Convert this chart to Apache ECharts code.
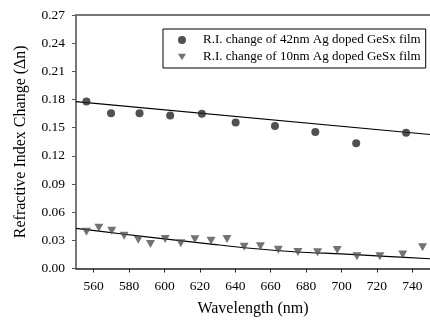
<!DOCTYPE html>
<html>
<head>
<meta charset="utf-8">
<script src="https://cdn.jsdelivr.net/npm/echarts@6/dist/echarts.min.js"></script>
<style>
  html, body { margin: 0; padding: 0; background: #fff; }
  #chart { width: 430px; height: 325px; }
</style>
</head>
<body>
<div id="chart"></div>
<script>
// measured points, 42nm Ag doped film
const wl42 = [555.9, 569.8, 585.9, 603.2, 621.1, 640.2, 662.4, 685.2, 708.3, 736.5]
const dn42 = [0.1778, 0.1654, 0.1654, 0.1629, 0.1647, 0.1554, 0.1519, 0.1455, 0.1334, 0.1447]
// measured points, 10nm Ag doped film
const wl10 = [555.9, 562.9, 570.2, 577.2, 585.2, 592.1, 600.4, 609.2, 617.2, 626.3, 635.3,
  645.0, 654.2, 664.3, 675.4, 686.5, 697.6, 708.7, 721.7, 734.6, 745.8]
const dn10 = [0.0391, 0.0435, 0.0401, 0.0348, 0.0307, 0.0261, 0.0313, 0.0268, 0.0311, 0.0295, 0.0313,
  0.0231, 0.0238, 0.0201, 0.0177, 0.0174, 0.0197, 0.0131, 0.0131, 0.0149, 0.0227]
// fitted curves
const fit42X = [550, 750]
const fit42Y = [0.1777, 0.1427]
const fit10X = [550, 575, 600, 625, 650, 675, 700, 725, 750]
const fit10Y = [0.0428, 0.0370, 0.0315, 0.0263, 0.0213, 0.0176, 0.0155, 0.0130, 0.0104]

const xTicks = [560, 580, 600, 620, 640, 660, 680, 700, 720, 740]
const name42 = 'R.I. change of 42nm Ag doped GeSx film'
const name10 = 'R.I. change of 10nm Ag doped GeSx film'

const zip = (xs, ys) => xs.map((x, i) => [x, ys[i]])
const font = 'Liberation Serif'

var myChart = echarts.init(document.getElementById('chart'))
myChart.setOption({
    animation: false,
    textStyle: { fontFamily: font, color: '#000' },
    grid: { left: 76, top: 15, width: 361, height: 253.5 },
    legend: {
        left: 163,
        top: 29,
        orient: 'vertical',
        padding: [4, 5, 4, 15],
        itemGap: 3,
        itemWidth: 8,
        itemHeight: 8,
        borderColor: '#000',
        borderWidth: 1,
        backgroundColor: '#fff',
        textStyle: { fontFamily: font, fontSize: 13, color: '#000', lineHeight: 14, padding: [0, 0, 0, 12] },
        data: [
            { name: name42, icon: 'circle' },
            { name: name10, icon: 'path://M0,0L10,0L5,8Z' }
        ]
    },
    xAxis: [{
        type: 'value',
        min: 550,
        max: 750,
        name: 'Wavelength (nm)',
        nameLocation: 'middle',
        nameGap: 32,
        nameTextStyle: { fontFamily: font, fontSize: 16, color: '#000' },
        axisLine: { lineStyle: { color: '#222', width: 1.5 } },
        axisTick: { customValues: xTicks, length: 4, lineStyle: { color: '#222' } },
        axisLabel: { customValues: xTicks, margin: 11, fontFamily: font, fontSize: 13.5, color: '#000' },
        splitLine: { show: false }
    }, {
        type: 'value',
        position: 'top',
        min: 550,
        max: 750,
        axisLine: { show: true, lineStyle: { color: '#777', width: 2 } },
        axisTick: { show: false },
        axisLabel: { show: false },
        splitLine: { show: false }
    }],
    yAxis: {
        type: 'value',
        min: 0,
        max: 0.27,
        interval: 0.03,
        name: 'Refractive Index Change (\u0394n)',
        nameLocation: 'middle',
        nameGap: 47,
        nameTextStyle: { fontFamily: font, fontSize: 16, color: '#000' },
        axisLine: { show: true, lineStyle: { color: '#777', width: 2 } },
        axisTick: { show: true, length: 4, lineStyle: { color: '#555' } },
        axisLabel: {
            margin: 11,
            fontFamily: font,
            fontSize: 13.5,
            color: '#000',
            formatter(val) { return val.toFixed(2) }
        },
        splitLine: { show: false }
    },
    series: [
        {
            name: name42,
            type: 'scatter',
            data: zip(wl42, dn42),
            symbol: 'circle',
            symbolSize: 8,
            itemStyle: { color: '#262626' },
            z: 3
        },
        {
            name: name10,
            type: 'scatter',
            data: zip(wl10, dn10),
            symbol: 'triangle',
            symbolRotate: 180,
            symbolSize: [9, 8],
            itemStyle: { color: '#505050' },
            z: 3
        },
        {
            name: 'fit42',
            type: 'line',
            data: zip(fit42X, fit42Y),
            symbol: 'none',
            silent: true,
            lineStyle: { color: '#000', width: 1.2 },
            z: 2
        },
        {
            name: 'fit10',
            type: 'line',
            data: zip(fit10X, fit10Y),
            smooth: 0.3,
            symbol: 'none',
            silent: true,
            lineStyle: { color: '#000', width: 1.2 },
            z: 2
        }
    ]
})
</script>
</body>
</html>
